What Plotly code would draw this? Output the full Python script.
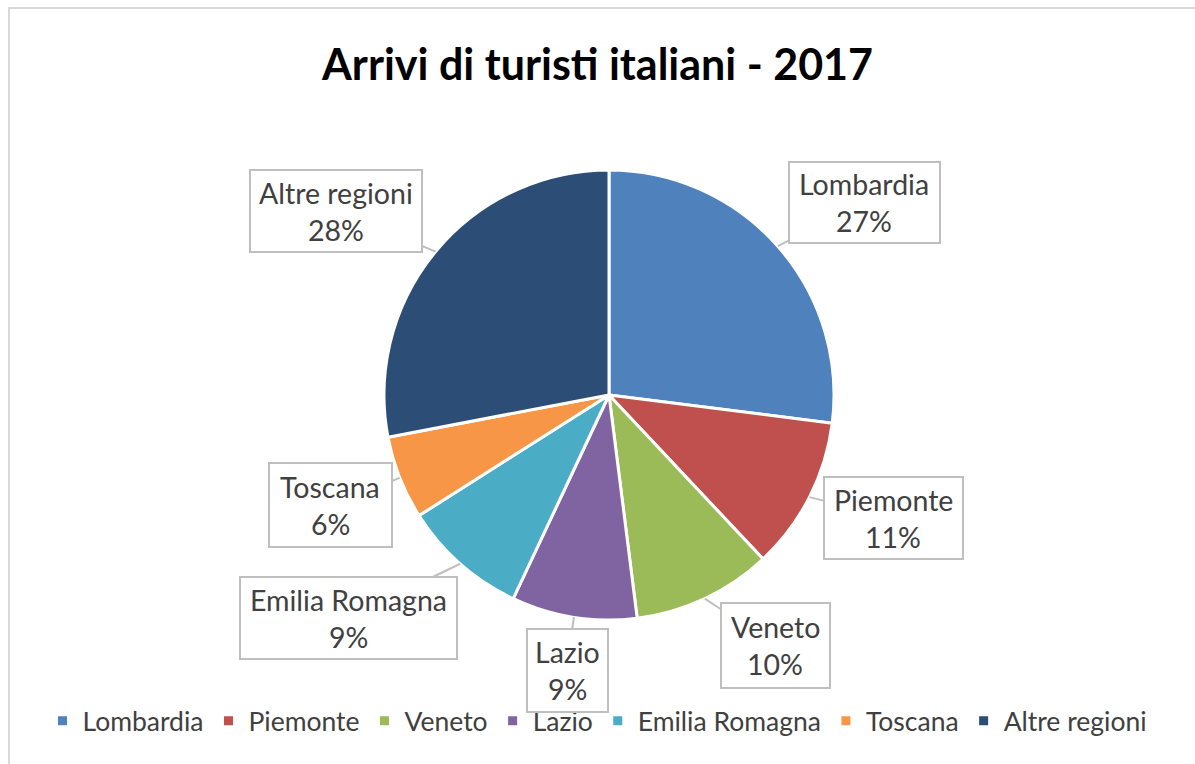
import math
import plotly.graph_objects as go

# data
regioni = ["Lombardia", "Piemonte", "Veneto", "Lazio", "Emilia Romagna", "Toscana", "Altre regioni"]
quote = [27, 11, 10, 9, 9, 6, 28]
colori = ["#4F81BD", "#C0504D", "#9BBB59", "#8064A2", "#4BACC6", "#F79646", "#2C4D75"]
titolo = "Arrivi di turisti italiani - 2017"

W, H = 1195, 764
FONT = "Lato"
GRAY_TXT = "#404040"

# pie geometry (pixels)
cx, cy, r = 609, 395, 225

# callout boxes: centre x, centre y, width, height (pixels)
boxes = [
    (864, 202, 152, 82),
    (893, 518, 140, 83),
    (775, 645, 110, 86),
    (567, 670, 82, 84),
    (348, 618, 218, 83),
    (330, 505, 124, 85),
    (336, 211, 173, 83),
]

fig = go.Figure(go.Pie(
    labels=regioni,
    values=quote,
    sort=False,
    direction="clockwise",
    rotation=0,
    textinfo="none",
    hoverinfo="label+percent",
    marker=dict(colors=colori, line=dict(color="white", width=3)),
    domain=dict(x=[(cx - r) / W, (cx + r) / W], y=[1 - (cy + r) / H, 1 - (cy - r) / H]),
))

tot = sum(quote)
cum = 0
ann = []
for nome, v, (bx, by, bw, bh) in zip(regioni, quote, boxes):
    mid = (cum + v / 2) / tot * 2 * math.pi
    cum += v
    px = cx + r * math.sin(mid)
    py = cy - r * math.cos(mid)
    # box with leader line
    ann.append(dict(
        x=px / W, y=1 - py / H, xref="paper", yref="paper",
        text=" ", showarrow=True, arrowhead=0, arrowwidth=2, arrowcolor="#BFBFBF",
        ax=bx - px, ay=by - py,
        width=bw - 3, height=bh - 3, borderpad=0,
        bordercolor="#BFBFBF", borderwidth=2, bgcolor="white",
        font=dict(family=FONT, size=10),
    ))
    pct = "%d%%" % round(v / tot * 100)
    for txt, dy in ((nome, -18), (pct, 19)):
        ann.append(dict(
            x=bx / W, y=1 - (by + dy) / H, xref="paper", yref="paper",
            text=txt, showarrow=False, xanchor="center", yanchor="middle",
            font=dict(family=FONT, size=28.5, color=GRAY_TXT),
        ))

fig.update_layout(
    width=W, height=H,
    margin=dict(l=0, r=0, t=0, b=0),
    paper_bgcolor="white",
    title=dict(text="<b>" + titolo + "</b>", x=0.5, xanchor="center",
               y=1 - 65 / H, yanchor="middle",
               font=dict(family=FONT, size=43, color="#000000")),
    legend=dict(orientation="h", x=0.5, xanchor="center", y=1 - 721 / H, yanchor="middle",
                font=dict(family=FONT, size=26.5, color=GRAY_TXT), itemwidth=30,
                traceorder="normal"),
    annotations=ann,
    shapes=[dict(type="rect", xref="paper", yref="paper", x0=9 / W, x1=1.01, y0=-0.01, y1=1 - 8 / H,
                 line=dict(color="#D9D9D9", width=2))],
)

fig.write_html("out.html", config={"displayModeBar": False},
               post_script="document.body.style.margin='0';")
